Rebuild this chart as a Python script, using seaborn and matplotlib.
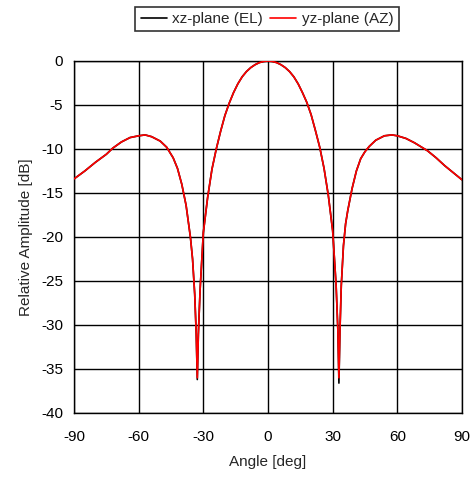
import matplotlib
matplotlib.use("Agg")
import matplotlib.pyplot as plt
import seaborn as sns
import pandas as pd

# Angles [deg]
angles = [-90, -85, -80, -75, -72, -68, -64, -60, -57, -54, -50, -47, -44, -42, -40,
          -38, -36, -35, -34, -33.3, -32.8, -32.3, -31.5, -30, -28, -26, -24, -22,
          -20, -18, -16, -14, -12, -10, -8, -6, -4, -2, 0,
          2, 4, 6, 8, 10, 12, 14, 16, 18, 20, 22, 24, 26, 28, 30, 31.6, 32.4,
          32.9, 33.4, 34, 35, 36, 37, 39, 41, 43, 45, 47, 50, 54, 57.5, 60, 64,
          68, 72, 74, 78, 82, 86, 90]

# yz-plane (AZ) relative amplitude [dB]
az_db = [-13.4, -12.5, -11.5, -10.6, -9.9, -9.2, -8.7, -8.5, -8.4, -8.6, -9.1, -9.8, -11.0, -12.2, -14.0,
         -16.4, -20.0, -22.5, -26.5, -31.0, -36.0, -31.0, -26.0, -19.5, -15.5, -12.3, -10.0, -8.0,
         -6.2, -4.8, -3.6, -2.6, -1.8, -1.2, -0.75, -0.42, -0.18, -0.05, 0.0,
         -0.05, -0.18, -0.42, -0.75, -1.2, -1.8, -2.6, -3.6, -4.7, -6.1, -7.9, -9.8, -12.2, -15.3, -19.3, -25.5, -30.5,
         -36.0, -30.5, -25.5, -21.0, -18.5, -17.0, -14.5, -12.5, -11.1, -10.3, -9.7, -9.0, -8.5, -8.4, -8.5, -8.8,
         -9.3, -9.9, -10.2, -11.0, -11.9, -12.7, -13.5]

# xz-plane (EL) relative amplitude [dB]
el_db = [-13.4, -12.5, -11.5, -10.6, -9.9, -9.2, -8.7, -8.5, -8.4, -8.6, -9.1, -9.8, -11.0, -12.2, -14.0,
         -16.4, -20.0, -22.5, -26.5, -31.0, -36.2, -31.0, -26.0, -19.5, -15.5, -12.3, -10.0, -8.0,
         -6.2, -4.8, -3.6, -2.6, -1.8, -1.2, -0.75, -0.42, -0.18, -0.05, 0.0,
         -0.05, -0.18, -0.42, -0.75, -1.2, -1.8, -2.6, -3.6, -4.7, -6.1, -7.9, -9.8, -12.2, -15.3, -19.3, -25.5, -30.5,
         -36.6, -30.5, -25.5, -21.0, -18.5, -17.0, -14.5, -12.5, -11.1, -10.3, -9.7, -9.0, -8.5, -8.4, -8.5, -8.8,
         -9.3, -9.9, -10.2, -11.0, -11.9, -12.7, -13.5]

x_ticks = [-90, -60, -30, 0, 30, 60, 90]
y_ticks = [0, -5, -10, -15, -20, -25, -30, -35, -40]

sns.set_theme(style="white")
plt.rcParams['font.family'] = ['Liberation Sans', 'DejaVu Sans']

df = pd.DataFrame({
    "Angle": angles * 2,
    "dB": el_db + az_db,
    "series": ["xz-plane (EL)"] * len(angles) + ["yz-plane (AZ)"] * len(angles),
})

FS = 11

fig = plt.figure(figsize=(4.75, 4.79), dpi=100)
ax = fig.add_axes([74 / 475, 1 - 413 / 479, (462 - 74) / 475, (413 - 61) / 479])

sns.lineplot(data=df, x="Angle", y="dB", hue="series",
             palette={"xz-plane (EL)": "black", "yz-plane (AZ)": "#ff0000"},
             linewidth=1.2, ax=ax, legend=True, zorder=3)

ax.set_xlim(-90, 90)
ax.set_ylim(-40, 0)
ax.set_xticks(x_ticks)
ax.set_xticklabels([str(v) for v in x_ticks])
ax.set_yticks(y_ticks)
ax.set_yticklabels([str(v) for v in y_ticks])
ax.grid(True, color="black", linewidth=1.0)
ax.set_axisbelow(True)
for s in ax.spines.values():
    s.set_color("black")
    s.set_linewidth(1.0)
ax.tick_params(axis="both", length=0, labelsize=FS, colors="black")
ax.tick_params(axis="x", pad=12)
ax.tick_params(axis="y", pad=8)
ax.set_xlabel("Angle [deg]", fontsize=FS, labelpad=8)
ax.set_ylabel("Relative Amplitude [dB]", fontsize=FS, labelpad=6)

handles, labels = ax.get_legend_handles_labels()
ax.legend_.remove()
leg = fig.legend(handles, labels, loc="center", bbox_to_anchor=(267 / 475, 1 - 19 / 479),
                 ncol=2, frameon=True, fancybox=False, fontsize=FS,
                 handlelength=1.7, handletextpad=0.35, columnspacing=0.5,
                 borderpad=0.35, edgecolor="black")
leg.get_frame().set_linewidth(1.2)
for line in leg.get_lines():
    line.set_linewidth(1.2)

fig.savefig("out.png", dpi=100)
